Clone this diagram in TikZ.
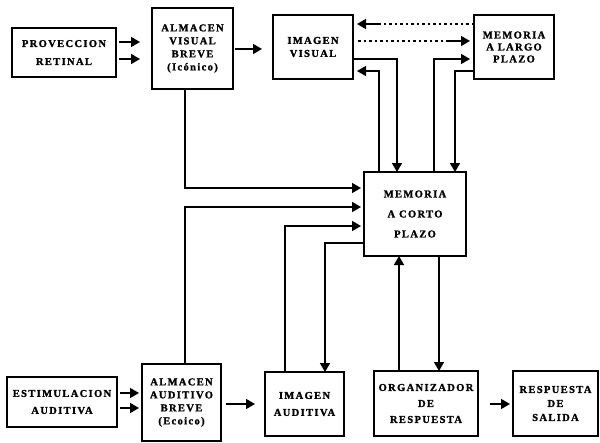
\documentclass[tikz,border=0pt]{standalone}
\usepackage{fontspec}
\newfontfamily\labfont[LetterSpace=13,FakeBold=1.5]{Liberation Serif}
\usetikzlibrary{arrows.meta,calc}
\begin{document}
\begin{tikzpicture}[x=1pt,y=-1pt,
 box/.style={draw, line width=1.6pt, anchor=north west, inner sep=0pt, outer sep=0pt, align=center, font=\labfont\bfseries\fontsize{10.5}{13}\selectfont},
 arr/.style={line width=1.6pt, -{Triangle[length=9pt,width=10pt]}},
 dotln/.style={line width=1.6pt, dash pattern=on 2.5pt off 3pt},
]
\fill[white] (0,0) rectangle (600,442);
\useasboundingbox (0,0) rectangle (600,442);

\node[box, minimum width=104pt, minimum height=49pt] (pr) at (12,28) {PROVECCION\\[5pt]RETINAL};
\node[box, minimum width=81pt, minimum height=81pt] (avb) at (152,8) {ALMACEN\\VISUAL\\BREVE\\(Icónico)};
\node[box, minimum width=80pt, minimum height=64pt] (iv) at (273,15) {IMAGEN\\VISUAL};
\node[box, minimum width=80pt, minimum height=64pt] (mlp) at (474,15) {MEMORIA\\[-1pt]A LARGO\\[-1pt]PLAZO};
\node[box, minimum width=102pt, minimum height=84pt] (mcp) at (364,172) {MEMORIA\\[7pt]A CORTO\\[7pt]PLAZO};
\node[box, minimum width=110pt, minimum height=50pt] (ea) at (7,377) {ESTIMULACION\\[4pt]AUDITIVA};
\node[box, minimum width=79pt, minimum height=77pt] (aab) at (142,364) {ALMACEN\\AUDITIVO\\BREVE\\(Ecoico)};
\node[box, minimum width=79pt, minimum height=64pt] (ia) at (265,372) {IMAGEN\\[4pt]AUDITIVA};
\node[box, minimum width=104pt, minimum height=65pt] (org) at (374,371) {ORGANIZADOR\\[3pt]DE\\[3pt]RESPUESTA};
\node[box, minimum width=85pt, minimum height=65pt] (rs) at (513,371) {RESPUESTA\\[1pt]DE\\[1pt]SALIDA};

% rows
\coordinate (ra) at (0,42);
\coordinate (rb) at (0,59);
\coordinate (rc) at (0,49);
\coordinate (rd) at (0,24);
\coordinate (re) at (0,41);
\coordinate (rf) at (0,59);
\coordinate (rg) at (0,71);
\coordinate (rh) at (0,188);
\coordinate (ri) at (0,207);
\coordinate (rj) at (0,226);
\coordinate (rk) at (0,243);
\coordinate (rl) at (0,393);
\coordinate (rm) at (0,408);
\coordinate (rn) at (0,404);
% columns
\coordinate (ca) at (185,0);
\coordinate (cb) at (285,0);
\coordinate (cc) at (325,0);
\coordinate (cd) at (379,0);
\coordinate (ce) at (397,0);
\coordinate (cf) at (434,0);
\coordinate (cg) at (455,0);
\coordinate (ch) at (399,0);
\coordinate (ci) at (439,0);
\coordinate (cj) at (380,0);
\coordinate (ck) at (447,0);

\draw[arr, shorten <=3pt, shorten >=12pt] (pr.east |- ra) -- (avb.west |- ra);
\draw[arr, shorten <=3pt, shorten >=12pt] (pr.east |- rb) -- (avb.west |- rb);
\draw[arr, shorten <=2pt, shorten >=11pt] (avb.east |- rc) -- (iv.west |- rc);

\draw[dotln] (mlp.west |- rd) -- (cj |- rd);
\draw[arr, shorten >=4pt] (cj |- rd) -- (iv.east |- rd);
\draw[dotln, shorten <=5pt] (iv.east |- re) -- (ck |- re);
\draw[arr, shorten >=4pt] (ck |- re) -- (mlp.west |- re);

\draw[arr, shorten >=4pt] (cd |- mcp.north) |- (iv.east |- rg);
\draw[arr] (iv.east |- rf) -| (ce |- mcp.north);
\draw[arr, shorten >=4pt] (cf |- mcp.north) |- (mlp.west |- rf);
\draw[arr] (mlp.west |- rg) -| (cg |- mcp.north);

\draw[arr, shorten >=3pt] (ca |- avb.south) |- (mcp.west |- rh);
\draw[arr, shorten >=3pt] (ca |- aab.north) |- (mcp.west |- ri);
\draw[arr, shorten >=3pt] (cb |- ia.north) |- (mcp.west |- rj);
\draw[arr] (mcp.west |- rk) -| (cc |- ia.north);

\draw[arr] (ch |- org.north) -- (ch |- mcp.south);
\draw[arr] (ci |- mcp.south) -- (ci |- org.north);

\draw[arr, shorten <=3pt, shorten >=3pt] (ea.east |- rl) -- (aab.west |- rl);
\draw[arr, shorten <=3pt, shorten >=3pt] (ea.east |- rm) -- (aab.west |- rm);
\draw[arr, shorten <=5pt, shorten >=10pt] (aab.east |- rn) -- (ia.west |- rn);
\draw[arr, shorten <=12pt, shorten >=3pt] (org.east |- rn) -- (rs.west |- rn);
\end{tikzpicture}
\end{document}
